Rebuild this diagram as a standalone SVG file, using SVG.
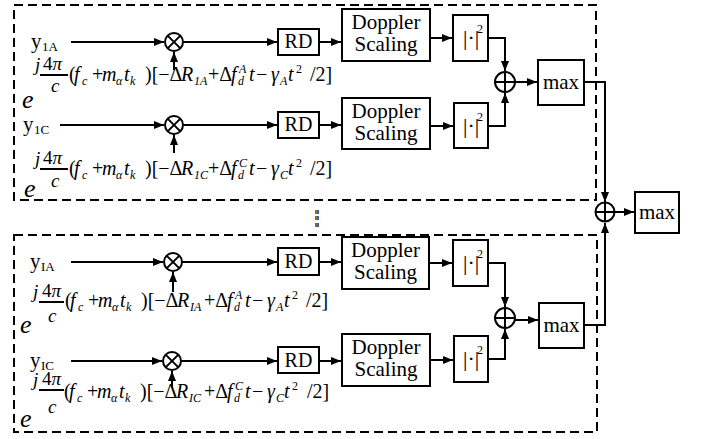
<svg xmlns="http://www.w3.org/2000/svg" width="701" height="439" viewBox="0 0 701 439" font-family="Liberation Serif, Times New Roman, serif">
<defs>
<style>
text{font-family:"Liberation Serif","Times New Roman",Times,serif}
.t{fill:#000}
.i{font-style:italic}
.n{font-style:normal}
.box{fill:#fff;stroke:#000;stroke-width:2}
.ln{fill:none;stroke:#000;stroke-width:2}
.dash{fill:none;stroke:#000;stroke-width:2;stroke-dasharray:9 5}
.c{fill:#fff;stroke:#000;stroke-width:2}
</style>
<marker id="ah" markerWidth="10" markerHeight="8" refX="10" refY="4" orient="auto" markerUnits="userSpaceOnUse"><path d="M0,0 L10,4 L0,8 z" fill="#000"/></marker>
</defs>
<rect width="701" height="439" fill="#fff"/>

<g id="groups">
<rect class="dash" x="14" y="5" width="582" height="195"/>
<rect class="dash" x="14" y="235" width="583" height="197"/>
</g>

<g id="connectors" class="ln">
<path d="M71,42 H164" marker-end="url(#ah)"/>
<path d="M174,70 V52" marker-end="url(#ah)"/>
<path d="M183,42 H277" marker-end="url(#ah)"/>
<path d="M319,42 H341" marker-end="url(#ah)"/>
<path d="M430,38 H452" marker-end="url(#ah)"/>
<path d="M488,38 H505 V71" marker-end="url(#ah)"/>

<path d="M60,125 H164" marker-end="url(#ah)"/>
<path d="M174,153 V135" marker-end="url(#ah)"/>
<path d="M183,125 H277" marker-end="url(#ah)"/>
<path d="M319,125 H341" marker-end="url(#ah)"/>
<path d="M430,126 H453" marker-end="url(#ah)"/>
<path d="M488,126 H505 V93" marker-end="url(#ah)"/>

<path d="M515,82 H537" marker-end="url(#ah)"/>
<path d="M584,82 H605 V202" marker-end="url(#ah)"/>

<path d="M71,262 H163" marker-end="url(#ah)"/>
<path d="M173,292 V272" marker-end="url(#ah)"/>
<path d="M182,262 H277" marker-end="url(#ah)"/>
<path d="M319,262 H341" marker-end="url(#ah)"/>
<path d="M429,263 H452" marker-end="url(#ah)"/>
<path d="M488,263 H505 V307" marker-end="url(#ah)"/>

<path d="M71,361 H162" marker-end="url(#ah)"/>
<path d="M172,388 V371" marker-end="url(#ah)"/>
<path d="M181,361 H277" marker-end="url(#ah)"/>
<path d="M319,361 H341" marker-end="url(#ah)"/>
<path d="M430,360 H453" marker-end="url(#ah)"/>
<path d="M488,359 H505 V329" marker-end="url(#ah)"/>

<path d="M515,320 H538" marker-end="url(#ah)"/>
<path d="M584,325 H605 V223" marker-end="url(#ah)"/>
<path d="M615,212 H634" marker-end="url(#ah)"/>
</g>

<!-- Row 1 -->
<g id="in1A"><text class="t" x="31" y="48" font-size="21">y<tspan x="42" y="51" font-size="13">1A</tspan></text></g>
<g id="mul1"><circle class="c" cx="174" cy="42" r="9"/><path class="ln" d="M167.6,35.6 L180.4,48.4 M180.4,35.6 L167.6,48.4"/></g>
<g id="exp1">
<text class="t i" x="22" y="108" font-size="26">e</text>
<text class="t i" x="35" y="71" font-size="19">j</text>
<text class="t" x="43" y="70" font-size="19">4<tspan class="i">π</tspan></text>
<line class="ln" x1="40" y1="75" x2="68" y2="75" stroke-width="1.3"/>
<text class="t i" x="51" y="92" font-size="19">c</text>
<text class="t i" font-size="20"><tspan class="n" x="69" y="81">(</tspan><tspan x="74" y="81">f</tspan><tspan x="82" y="85" font-size="12">c</tspan><tspan class="n" x="92" y="81">+</tspan><tspan x="102" y="81">m</tspan><tspan x="116" y="85" font-size="12">α</tspan><tspan x="124" y="81">t</tspan><tspan x="130" y="85" font-size="12">k</tspan><tspan class="n" x="145" y="81">)[−Δ</tspan><tspan x="181" y="81">R</tspan><tspan x="194" y="85" font-size="12">1A</tspan><tspan class="n" x="208" y="81">+Δ</tspan><tspan x="231" y="81">f</tspan><tspan x="238" y="85" font-size="12">d</tspan><tspan x="239" y="73" font-size="12">A</tspan><tspan x="249" y="81">t</tspan><tspan class="n" x="256" y="81">−</tspan><tspan x="271" y="81">γ</tspan><tspan x="280" y="85" font-size="12">A</tspan><tspan x="288" y="81">t</tspan><tspan class="n" x="296" y="73" font-size="12">2</tspan><tspan class="n" x="310" y="81">/2]</tspan></text>
</g>
<g id="rd1"><rect class="box" x="278" y="29" width="41" height="26"/><text class="t" x="298.5" y="48" font-size="20" text-anchor="middle">RD</text></g>
<g id="ds1"><rect class="box" x="342" y="9" width="88" height="52"/><text class="t" x="386" y="29" font-size="21" text-anchor="middle">Doppler</text><text class="t" x="386" y="51" font-size="21" text-anchor="middle">Scaling</text></g>
<g id="abs1"><rect class="box" x="453" y="15" width="35" height="46"/><text class="t" x="463" y="45" font-size="22">|·|<tspan x="477" y="33" font-size="12">2</tspan></text></g>

<!-- Row 2 -->
<g id="in1C"><text class="t" x="23" y="131" font-size="21">y<tspan x="34" y="134" font-size="13">1C</tspan></text></g>
<g id="mul2"><circle class="c" cx="174" cy="125" r="9"/><path class="ln" d="M167.6,118.6 L180.4,131.4 M180.4,118.6 L167.6,131.4"/></g>
<g id="exp2">
<text class="t i" x="24" y="197" font-size="26">e</text>
<text class="t i" x="35" y="165" font-size="19">j</text>
<text class="t" x="43" y="164" font-size="19">4<tspan class="i">π</tspan></text>
<line class="ln" x1="40" y1="169" x2="68" y2="169" stroke-width="1.3"/>
<text class="t i" x="51" y="187" font-size="19">c</text>
<text class="t i" font-size="20"><tspan class="n" x="69" y="175">(</tspan><tspan x="74" y="175">f</tspan><tspan x="82" y="179" font-size="12">c</tspan><tspan class="n" x="92" y="175">+</tspan><tspan x="102" y="175">m</tspan><tspan x="116" y="179" font-size="12">α</tspan><tspan x="124" y="175">t</tspan><tspan x="130" y="179" font-size="12">k</tspan><tspan class="n" x="145" y="175">)[−Δ</tspan><tspan x="181" y="175">R</tspan><tspan x="194" y="179" font-size="12">1C</tspan><tspan class="n" x="208" y="175">+Δ</tspan><tspan x="231" y="175">f</tspan><tspan x="238" y="179" font-size="12">d</tspan><tspan x="239" y="167" font-size="12">C</tspan><tspan x="249" y="175">t</tspan><tspan class="n" x="256" y="175">−</tspan><tspan x="271" y="175">γ</tspan><tspan x="280" y="179" font-size="12">C</tspan><tspan x="288" y="175">t</tspan><tspan class="n" x="296" y="167" font-size="12">2</tspan><tspan class="n" x="310" y="175">/2]</tspan></text>
</g>
<g id="rd2"><rect class="box" x="278" y="112" width="41" height="26"/><text class="t" x="298.5" y="131" font-size="20" text-anchor="middle">RD</text></g>
<g id="ds2"><rect class="box" x="342" y="98" width="88" height="51"/><text class="t" x="386" y="118" font-size="21" text-anchor="middle">Doppler</text><text class="t" x="386" y="140" font-size="21" text-anchor="middle">Scaling</text></g>
<g id="abs2"><rect class="box" x="454" y="103" width="34" height="45"/><text class="t" x="463" y="133" font-size="22">|·|<tspan x="477" y="121" font-size="12">2</tspan></text></g>

<g id="sum1"><circle class="c" cx="505" cy="82" r="10"/><path class="ln" d="M495,82 H515 M505,72 V92"/></g>
<g id="max1"><rect class="box" x="538" y="60" width="46" height="45"/><text class="t" x="561" y="89" font-size="21" text-anchor="middle">max</text></g>

<!-- ellipsis dots -->
<g id="dots">
<rect x="315" y="210" width="2" height="4" fill="#a0641e"/><rect x="317" y="210" width="2" height="4" fill="#1e6ec8"/>
<rect x="315" y="216" width="2" height="4" fill="#a0641e"/><rect x="317" y="216" width="2" height="4" fill="#1e6ec8"/>
<rect x="315" y="223" width="2" height="4" fill="#a0641e"/><rect x="317" y="223" width="2" height="4" fill="#1e6ec8"/>
</g>

<!-- Row 3 -->
<g id="inIA"><text class="t" x="30" y="268" font-size="21">y<tspan x="41" y="271" font-size="13">IA</tspan></text></g>
<g id="mul3"><circle class="c" cx="173" cy="262" r="9"/><path class="ln" d="M166.6,255.6 L179.4,268.4 M179.4,255.6 L166.6,268.4"/></g>
<g id="exp3">
<text class="t i" x="20" y="333" font-size="26">e</text>
<text class="t i" x="33" y="298" font-size="19">j</text>
<text class="t" x="42" y="297" font-size="19">4<tspan class="i">π</tspan></text>
<line class="ln" x1="39" y1="302" x2="64" y2="302" stroke-width="1.3"/>
<text class="t i" x="48" y="322" font-size="19">c</text>
<text class="t i" font-size="20"><tspan class="n" x="65" y="307">(</tspan><tspan x="70" y="307">f</tspan><tspan x="78" y="311" font-size="12">c</tspan><tspan class="n" x="88" y="307">+</tspan><tspan x="98" y="307">m</tspan><tspan x="112" y="311" font-size="12">α</tspan><tspan x="120" y="307">t</tspan><tspan x="126" y="311" font-size="12">k</tspan><tspan class="n" x="141" y="307">)[−Δ</tspan><tspan x="177" y="307">R</tspan><tspan x="190" y="311" font-size="12">IA</tspan><tspan class="n" x="204" y="307">+Δ</tspan><tspan x="227" y="307">f</tspan><tspan x="234" y="311" font-size="12">d</tspan><tspan x="235" y="299" font-size="12">A</tspan><tspan x="245" y="307">t</tspan><tspan class="n" x="252" y="307">−</tspan><tspan x="267" y="307">γ</tspan><tspan x="276" y="311" font-size="12">A</tspan><tspan x="284" y="307">t</tspan><tspan class="n" x="292" y="299" font-size="12">2</tspan><tspan class="n" x="306" y="307">/2]</tspan></text>
</g>
<g id="rd3"><rect class="box" x="278" y="248" width="41" height="27"/><text class="t" x="298.5" y="268" font-size="20" text-anchor="middle">RD</text></g>
<g id="ds3"><rect class="box" x="342" y="237" width="87" height="52"/><text class="t" x="385.5" y="257" font-size="21" text-anchor="middle">Doppler</text><text class="t" x="385.5" y="279" font-size="21" text-anchor="middle">Scaling</text></g>
<g id="abs3"><rect class="box" x="453" y="240" width="35" height="46"/><text class="t" x="463" y="270" font-size="22">|·|<tspan x="477" y="258" font-size="12">2</tspan></text></g>

<!-- Row 4 -->
<g id="inIC"><text class="t" x="30" y="367" font-size="21">y<tspan x="41" y="370" font-size="13">IC</tspan></text></g>
<g id="mul4"><circle class="c" cx="172" cy="361" r="9"/><path class="ln" d="M165.6,354.6 L178.4,367.4 M178.4,354.6 L165.6,367.4"/></g>
<g id="exp4">
<text class="t i" x="20" y="427" font-size="26">e</text>
<text class="t i" x="33" y="386" font-size="19">j</text>
<text class="t" x="42" y="385" font-size="19">4<tspan class="i">π</tspan></text>
<line class="ln" x1="39" y1="390" x2="64" y2="390" stroke-width="1.3"/>
<text class="t i" x="48" y="413" font-size="19">c</text>
<text class="t i" font-size="20"><tspan class="n" x="64" y="398">(</tspan><tspan x="69" y="398">f</tspan><tspan x="77" y="402" font-size="12">c</tspan><tspan class="n" x="87" y="398">+</tspan><tspan x="97" y="398">m</tspan><tspan x="111" y="402" font-size="12">α</tspan><tspan x="119" y="398">t</tspan><tspan x="125" y="402" font-size="12">k</tspan><tspan class="n" x="140" y="398">)[−Δ</tspan><tspan x="176" y="398">R</tspan><tspan x="189" y="402" font-size="12">IC</tspan><tspan class="n" x="204" y="398">+Δ</tspan><tspan x="227" y="398">f</tspan><tspan x="234" y="402" font-size="12">d</tspan><tspan x="235" y="390" font-size="12">C</tspan><tspan x="245" y="398">t</tspan><tspan class="n" x="252" y="398">−</tspan><tspan x="267" y="398">γ</tspan><tspan x="276" y="402" font-size="12">C</tspan><tspan x="284" y="398">t</tspan><tspan class="n" x="292" y="390" font-size="12">2</tspan><tspan class="n" x="307" y="398">/2]</tspan></text>
</g>
<g id="rd4"><rect class="box" x="278" y="347" width="41" height="26"/><text class="t" x="298.5" y="367" font-size="20" text-anchor="middle">RD</text></g>
<g id="ds4"><rect class="box" x="342" y="334" width="88" height="52"/><text class="t" x="386" y="354" font-size="21" text-anchor="middle">Doppler</text><text class="t" x="386" y="376" font-size="21" text-anchor="middle">Scaling</text></g>
<g id="abs4"><rect class="box" x="454" y="336" width="34" height="46"/><text class="t" x="463" y="366" font-size="22">|·|<tspan x="477" y="354" font-size="12">2</tspan></text></g>

<g id="sum2"><circle class="c" cx="505" cy="318" r="10"/><path class="ln" d="M495,318 H515 M505,308 V328"/></g>
<g id="max2"><rect class="box" x="539" y="303" width="45" height="45"/><text class="t" x="561.5" y="332" font-size="21" text-anchor="middle">max</text></g>

<g id="sumF"><circle class="c" cx="605" cy="212" r="9.5"/><path class="ln" d="M595.5,212 H614.5 M605,202.5 V221.5"/></g>
<g id="maxF"><rect class="box" x="635" y="192" width="44" height="41"/><text class="t" x="657" y="219" font-size="21" text-anchor="middle">max</text></g>
</svg>
